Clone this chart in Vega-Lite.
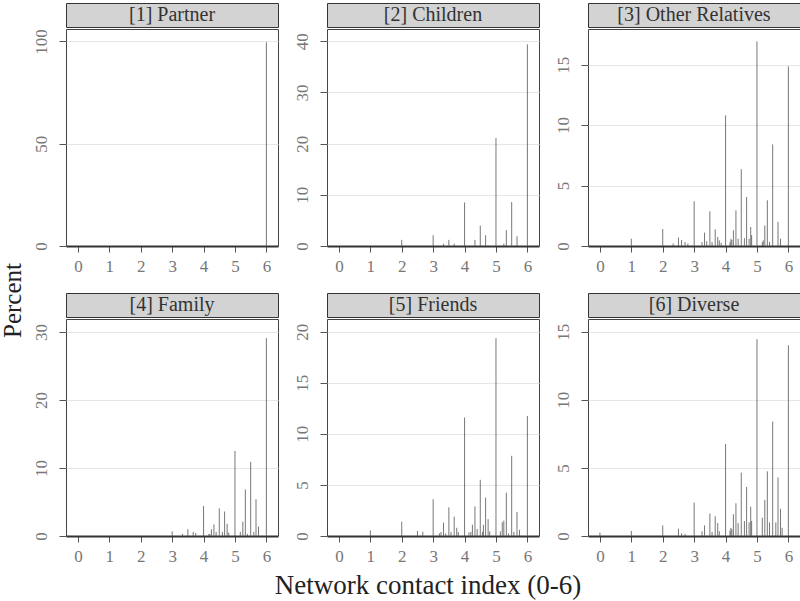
{
  "$schema": "https://vega.github.io/schema/vega-lite/v6.json",
  "padding": {"left": 0, "top": 2, "right": 0, "bottom": 4},
  "title": {"text": "Percent", "orient": "left", "anchor": "middle", "font": "Liberation Serif", "fontSize": 25, "fontWeight": "normal", "color": "#222", "offset": 6},
  "vconcat": [
    {
      "title": {"text": "Network contact index (0-6)", "orient": "bottom", "anchor": "middle", "font": "Liberation Serif", "fontSize": 27, "fontWeight": "normal", "color": "#222", "offset": 8, "dx": 12},
      "columns": 3,
      "spacing": {"row": 17, "column": 13},
      "concat": [
        {"spacing": 0, "vconcat": [
          {"width": 212, "height": 24, "data": {"values": [{"label": "[1] Partner"}]}, "mark": {"type": "text", "font": "Liberation Serif", "fontSize": 20, "color": "#333"}, "encoding": {"text": {"field": "label"}}, "view": {"fill": "#d3d3d3", "stroke": "#333", "strokeWidth": 1}},
          {"width": 212, "height": 217, "data": {"name": "p1"}, "mark": {"type": "rule", "color": "#555", "strokeWidth": 1, "opacity": 0.8},
           "encoding": {
             "x": {"field": "x", "type": "quantitative", "scale": {"domain": [-0.38, 6.37], "nice": false, "zero": false}, "axis": {"values": [0,1,2,3,4,5,6], "title": null}},
             "y": {"field": "pct", "type": "quantitative", "scale": {"domain": [0, 106.1], "nice": false}, "axis": {"values": [0,50,100], "title": null}},
             "y2": {"datum": 0}}}
        ]},
        {"spacing": 0, "vconcat": [
          {"width": 212, "height": 24, "data": {"values": [{"label": "[2] Children"}]}, "mark": {"type": "text", "font": "Liberation Serif", "fontSize": 20, "color": "#333"}, "encoding": {"text": {"field": "label"}}, "view": {"fill": "#d3d3d3", "stroke": "#333", "strokeWidth": 1}},
          {"width": 212, "height": 217, "data": {"name": "p2"}, "mark": {"type": "rule", "color": "#555", "strokeWidth": 1, "opacity": 0.8},
           "encoding": {
             "x": {"field": "x", "type": "quantitative", "scale": {"domain": [-0.38, 6.37], "nice": false, "zero": false}, "axis": {"values": [0,1,2,3,4,5,6], "title": null}},
             "y": {"field": "pct", "type": "quantitative", "scale": {"domain": [0, 42.4], "nice": false}, "axis": {"values": [0,10,20,30,40], "title": null}},
             "y2": {"datum": 0}}}
        ]},
        {"spacing": 0, "vconcat": [
          {"width": 212, "height": 24, "data": {"values": [{"label": "[3] Other Relatives"}]}, "mark": {"type": "text", "font": "Liberation Serif", "fontSize": 20, "color": "#333"}, "encoding": {"text": {"field": "label"}}, "view": {"fill": "#d3d3d3", "stroke": "#333", "strokeWidth": 1}},
          {"width": 212, "height": 217, "data": {"name": "p3"}, "mark": {"type": "rule", "color": "#555", "strokeWidth": 1, "opacity": 0.8},
           "encoding": {
             "x": {"field": "x", "type": "quantitative", "scale": {"domain": [-0.38, 6.37], "nice": false, "zero": false}, "axis": {"values": [0,1,2,3,4,5,6], "title": null}},
             "y": {"field": "pct", "type": "quantitative", "scale": {"domain": [0, 17.95], "nice": false}, "axis": {"values": [0,5,10,15], "title": null}},
             "y2": {"datum": 0}}}
        ]},
        {"spacing": 0, "vconcat": [
          {"width": 212, "height": 24, "data": {"values": [{"label": "[4] Family"}]}, "mark": {"type": "text", "font": "Liberation Serif", "fontSize": 20, "color": "#333"}, "encoding": {"text": {"field": "label"}}, "view": {"fill": "#d3d3d3", "stroke": "#333", "strokeWidth": 1}},
          {"width": 212, "height": 217, "data": {"name": "p4"}, "mark": {"type": "rule", "color": "#555", "strokeWidth": 1, "opacity": 0.8},
           "encoding": {
             "x": {"field": "x", "type": "quantitative", "scale": {"domain": [-0.38, 6.37], "nice": false, "zero": false}, "axis": {"values": [0,1,2,3,4,5,6], "title": null}},
             "y": {"field": "pct", "type": "quantitative", "scale": {"domain": [0, 31.9], "nice": false}, "axis": {"values": [0,10,20,30], "title": null}},
             "y2": {"datum": 0}}}
        ]},
        {"spacing": 0, "vconcat": [
          {"width": 212, "height": 24, "data": {"values": [{"label": "[5] Friends"}]}, "mark": {"type": "text", "font": "Liberation Serif", "fontSize": 20, "color": "#333"}, "encoding": {"text": {"field": "label"}}, "view": {"fill": "#d3d3d3", "stroke": "#333", "strokeWidth": 1}},
          {"width": 212, "height": 217, "data": {"name": "p5"}, "mark": {"type": "rule", "color": "#555", "strokeWidth": 1, "opacity": 0.8},
           "encoding": {
             "x": {"field": "x", "type": "quantitative", "scale": {"domain": [-0.38, 6.37], "nice": false, "zero": false}, "axis": {"values": [0,1,2,3,4,5,6], "title": null}},
             "y": {"field": "pct", "type": "quantitative", "scale": {"domain": [0, 21.24], "nice": false}, "axis": {"values": [0,5,10,15,20], "title": null}},
             "y2": {"datum": 0}}}
        ]},
        {"spacing": 0, "vconcat": [
          {"width": 212, "height": 24, "data": {"values": [{"label": "[6] Diverse"}]}, "mark": {"type": "text", "font": "Liberation Serif", "fontSize": 20, "color": "#333"}, "encoding": {"text": {"field": "label"}}, "view": {"fill": "#d3d3d3", "stroke": "#333", "strokeWidth": 1}},
          {"width": 212, "height": 217, "data": {"name": "p6"}, "mark": {"type": "rule", "color": "#555", "strokeWidth": 1, "opacity": 0.8},
           "encoding": {
             "x": {"field": "x", "type": "quantitative", "scale": {"domain": [-0.38, 6.37], "nice": false, "zero": false}, "axis": {"values": [0,1,2,3,4,5,6], "title": null}},
             "y": {"field": "pct", "type": "quantitative", "scale": {"domain": [0, 15.93], "nice": false}, "axis": {"values": [0,5,10,15], "title": null}},
             "y2": {"datum": 0}}}
        ]}
      ]
    }
  ],
  "datasets": {
    "p1": [{"x": 6, "pct": 99.6}],
    "p2": [
      {"x": 2, "pct": 1.2}, {"x": 3, "pct": 2.1}, {"x": 3.33, "pct": 0.45}, {"x": 3.5, "pct": 1.2}, {"x": 3.67, "pct": 0.45},
      {"x": 4, "pct": 8.5}, {"x": 4.33, "pct": 1.2}, {"x": 4.5, "pct": 4.0}, {"x": 4.67, "pct": 2.1}, {"x": 5, "pct": 21.1},
      {"x": 5.25, "pct": 0.45}, {"x": 5.33, "pct": 3.1}, {"x": 5.5, "pct": 8.6}, {"x": 5.67, "pct": 1.9}, {"x": 6, "pct": 39.4}
    ],
    "p3": [
      {"x": 1, "pct": 0.6}, {"x": 2, "pct": 1.4}, {"x": 2.33, "pct": 0.2}, {"x": 2.5, "pct": 0.7}, {"x": 2.6, "pct": 0.5},
      {"x": 2.71, "pct": 0.33}, {"x": 2.8, "pct": 0.2}, {"x": 3, "pct": 3.7}, {"x": 3.25, "pct": 0.33}, {"x": 3.33, "pct": 1.1},
      {"x": 3.4, "pct": 0.4}, {"x": 3.5, "pct": 2.87}, {"x": 3.57, "pct": 0.33}, {"x": 3.67, "pct": 1.38}, {"x": 3.75, "pct": 0.74},
      {"x": 3.8, "pct": 0.47}, {"x": 3.86, "pct": 0.27}, {"x": 4, "pct": 10.8}, {"x": 4.14, "pct": 0.3}, {"x": 4.17, "pct": 0.6},
      {"x": 4.2, "pct": 0.5}, {"x": 4.25, "pct": 1.3}, {"x": 4.33, "pct": 2.95}, {"x": 4.4, "pct": 0.6}, {"x": 4.5, "pct": 6.35},
      {"x": 4.6, "pct": 0.65}, {"x": 4.67, "pct": 4.05}, {"x": 4.75, "pct": 0.6}, {"x": 4.8, "pct": 1.57}, {"x": 4.83, "pct": 0.9},
      {"x": 5, "pct": 16.93}, {"x": 5.17, "pct": 0.33}, {"x": 5.2, "pct": 0.47}, {"x": 5.25, "pct": 1.7}, {"x": 5.33, "pct": 3.78},
      {"x": 5.4, "pct": 0.33}, {"x": 5.5, "pct": 8.4}, {"x": 5.67, "pct": 2.0}, {"x": 5.75, "pct": 0.6}, {"x": 6, "pct": 14.86}
    ],
    "p4": [
      {"x": 3, "pct": 0.7}, {"x": 3.33, "pct": 0.3}, {"x": 3.5, "pct": 1.0}, {"x": 3.67, "pct": 0.6}, {"x": 3.75, "pct": 0.45},
      {"x": 4, "pct": 4.4}, {"x": 4.17, "pct": 0.3}, {"x": 4.2, "pct": 0.3}, {"x": 4.25, "pct": 1.0}, {"x": 4.33, "pct": 1.7},
      {"x": 4.4, "pct": 0.6}, {"x": 4.5, "pct": 4.07}, {"x": 4.6, "pct": 0.6}, {"x": 4.67, "pct": 3.6}, {"x": 4.75, "pct": 1.8},
      {"x": 4.8, "pct": 0.5}, {"x": 5, "pct": 12.5}, {"x": 5.17, "pct": 0.6}, {"x": 5.25, "pct": 2.1}, {"x": 5.33, "pct": 6.85},
      {"x": 5.4, "pct": 0.3}, {"x": 5.5, "pct": 10.9}, {"x": 5.6, "pct": 0.6}, {"x": 5.67, "pct": 5.4}, {"x": 5.75, "pct": 1.4},
      {"x": 6, "pct": 29.1}
    ],
    "p5": [
      {"x": 1, "pct": 0.55}, {"x": 2, "pct": 1.4}, {"x": 2.5, "pct": 0.5}, {"x": 2.67, "pct": 0.4}, {"x": 3, "pct": 3.6},
      {"x": 3.2, "pct": 0.25}, {"x": 3.25, "pct": 0.4}, {"x": 3.33, "pct": 1.3}, {"x": 3.4, "pct": 0.25}, {"x": 3.5, "pct": 2.8},
      {"x": 3.57, "pct": 0.4}, {"x": 3.67, "pct": 1.9}, {"x": 3.75, "pct": 0.8}, {"x": 3.8, "pct": 0.4}, {"x": 4, "pct": 11.6},
      {"x": 4.14, "pct": 0.35}, {"x": 4.2, "pct": 0.4}, {"x": 4.25, "pct": 1.1}, {"x": 4.33, "pct": 2.9}, {"x": 4.4, "pct": 0.7},
      {"x": 4.5, "pct": 5.5}, {"x": 4.57, "pct": 0.4}, {"x": 4.6, "pct": 1.1}, {"x": 4.67, "pct": 3.75}, {"x": 4.75, "pct": 1.65},
      {"x": 4.8, "pct": 0.45}, {"x": 5, "pct": 19.36}, {"x": 5.14, "pct": 0.45}, {"x": 5.2, "pct": 1.35}, {"x": 5.25, "pct": 1.5},
      {"x": 5.33, "pct": 4.25}, {"x": 5.4, "pct": 0.25}, {"x": 5.5, "pct": 7.85}, {"x": 5.57, "pct": 0.4}, {"x": 5.67, "pct": 2.35},
      {"x": 5.75, "pct": 0.6}, {"x": 6, "pct": 11.75}
    ],
    "p6": [
      {"x": 0, "pct": 0.25}, {"x": 1, "pct": 0.37}, {"x": 2, "pct": 0.78}, {"x": 2.5, "pct": 0.54}, {"x": 2.6, "pct": 0.2},
      {"x": 2.71, "pct": 0.15}, {"x": 3, "pct": 2.45}, {"x": 3.25, "pct": 0.35}, {"x": 3.33, "pct": 0.78}, {"x": 3.5, "pct": 1.65},
      {"x": 3.57, "pct": 0.3}, {"x": 3.67, "pct": 1.45}, {"x": 3.75, "pct": 0.95}, {"x": 3.8, "pct": 0.35}, {"x": 4, "pct": 6.75},
      {"x": 4.14, "pct": 0.4}, {"x": 4.17, "pct": 0.6}, {"x": 4.2, "pct": 0.5}, {"x": 4.25, "pct": 1.6}, {"x": 4.33, "pct": 2.4},
      {"x": 4.4, "pct": 0.95}, {"x": 4.5, "pct": 4.65}, {"x": 4.6, "pct": 1.1}, {"x": 4.67, "pct": 3.6}, {"x": 4.75, "pct": 1.0},
      {"x": 4.8, "pct": 2.15}, {"x": 4.83, "pct": 1.1}, {"x": 5, "pct": 14.45}, {"x": 5.17, "pct": 1.35}, {"x": 5.25, "pct": 2.65},
      {"x": 5.33, "pct": 4.75}, {"x": 5.4, "pct": 1.0}, {"x": 5.5, "pct": 8.4}, {"x": 5.6, "pct": 1.0}, {"x": 5.67, "pct": 4.3},
      {"x": 5.75, "pct": 2.0}, {"x": 5.8, "pct": 0.6}, {"x": 6, "pct": 14.0}
    ]
  },
  "config": {
    "view": {"stroke": "#444", "strokeWidth": 1},
    "axis": {"labelFont": "Liberation Serif", "labelFontSize": 17, "labelColor": "#777", "tickColor": "#555", "domain": false, "labelFlush": false, "labelOverlap": false},
    "axisX": {"grid": false, "tickSize": 6, "labelPadding": 6, "domain": true, "domainColor": "#333", "domainWidth": 2},
    "axisY": {"grid": true, "gridColor": "#e6e6e6", "tickSize": 7, "labelPadding": 9, "labelAngle": -90, "labelAlign": "center", "labelBaseline": "bottom"}
  }
}
